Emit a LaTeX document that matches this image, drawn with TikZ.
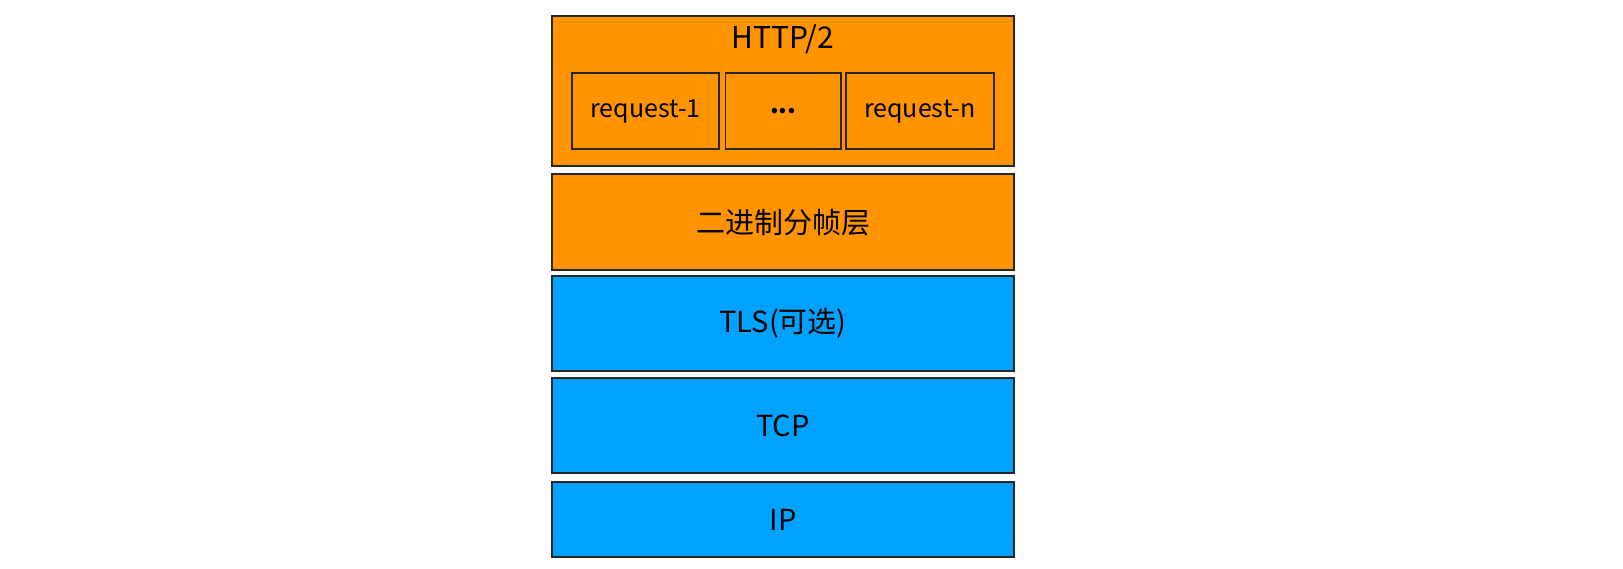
\documentclass[tikz,border=0pt]{standalone}
\usepackage{fontspec}
\setmainfont{Noto Sans CJK SC}
\definecolor{layerorange}{HTML}{FF9300}
\definecolor{layerblue}{HTML}{00A2FF}
\tikzset{
 layer/.style={draw=black!85, line width=1pt, minimum width=231pt, inner sep=0pt, font=\fontsize{14.5}{16}\selectfont},
 reqbox/.style={draw=black!85, line width=0.9pt, minimum height=38pt, inner sep=0pt, font=\fontsize{12.5}{14}\selectfont}
}
\begin{document}
\begin{tikzpicture}[x=0.5pt,y=-0.5pt]
 \useasboundingbox (0,0) rectangle (1623,568);

 \node (http) [layer, fill=layerorange, minimum height=75pt] at (783,90.7) {};
 \node (httplbl) [font=\fontsize{15}{17}\selectfont] at (783,39) {HTTP/2};
 \node (req1) [reqbox, minimum width=73.8pt] at (645.5,111.3) {request-1};
 \node (dots) [reqbox, minimum width=57.8pt] at (783.2,111.3) {\bfseries ...};
 \node (reqn) [reqbox, minimum width=73.8pt] at (919.9,111.3) {request-n};

 \node (frame) [layer, fill=layerorange, minimum height=47.8pt] at (783,222.2) {二进制分帧层};
 \node (tls) [layer, fill=layerblue, minimum height=47.5pt] at (783,323.5) {TLS(可选)};
 \node (tcp) [layer, fill=layerblue, minimum height=47.8pt] at (783,425.5) {TCP};
 \node (ip) [layer, fill=layerblue, minimum height=37.8pt] at (783,519.5) {IP};
\end{tikzpicture}
\end{document}
